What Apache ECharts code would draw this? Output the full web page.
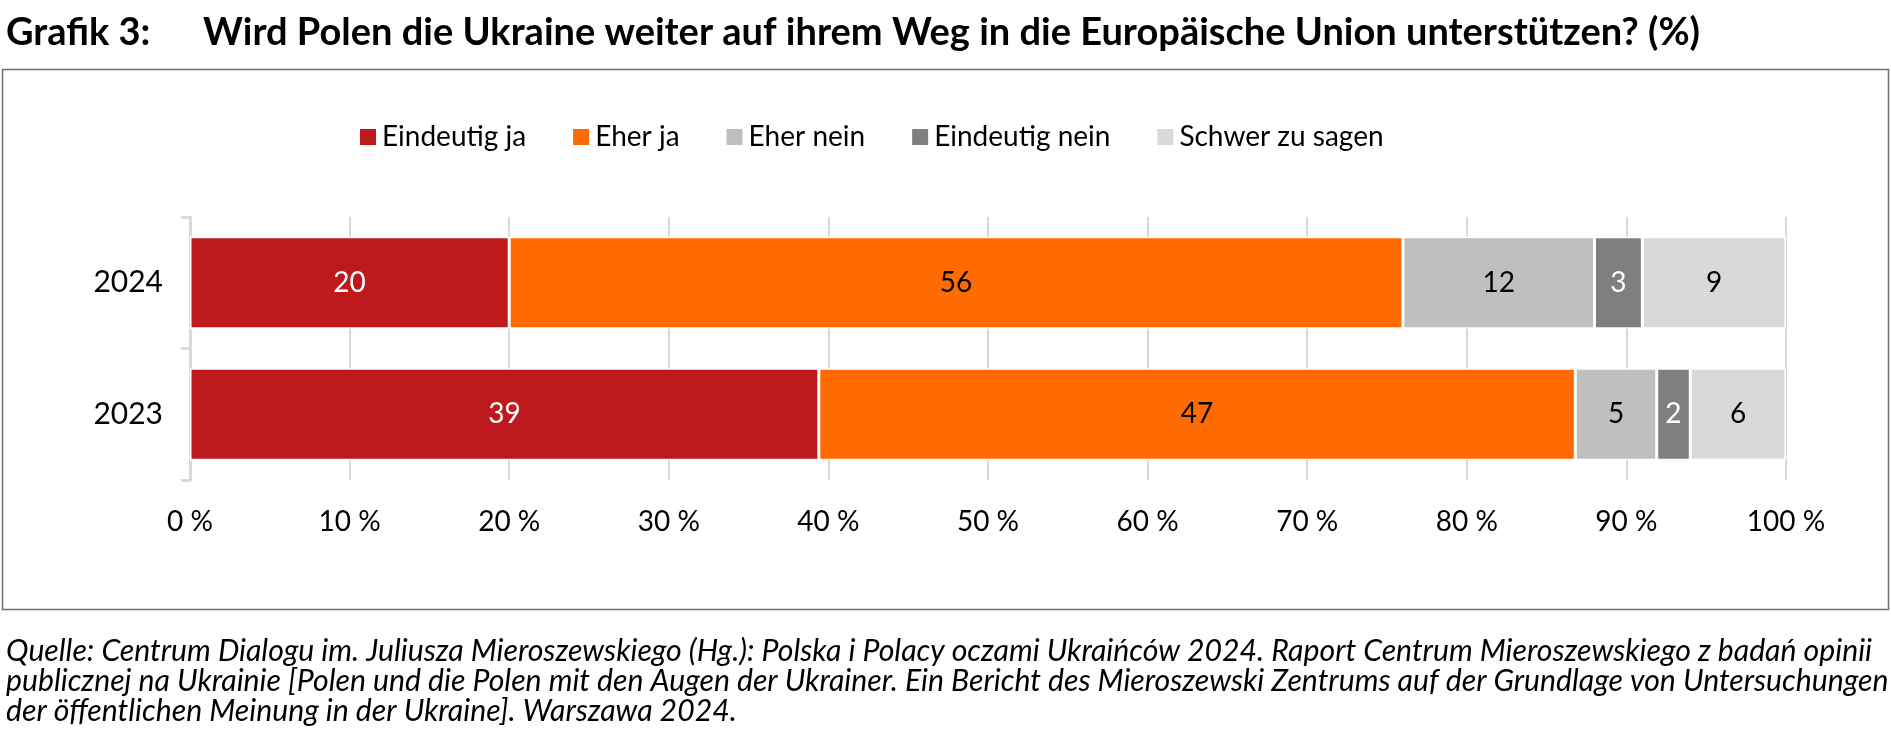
<!DOCTYPE html>
<html><head><meta charset="utf-8">
<script src="https://cdn.jsdelivr.net/npm/echarts@6/dist/echarts.min.js"></script>
<style>html,body{margin:0;padding:0;background:#fff}#c{width:1891px;height:738px}</style>
</head><body><div id="c"></div>
<script>
const categories = ['2024', '2023'];
const seriesNames = ['Eindeutig ja', 'Eher ja', 'Eher nein', 'Eindeutig nein', 'Schwer zu sagen'];
const eindeutigJa = [20, 39.4];
const eherJa = [56, 47.4];
const eherNein = [12, 5.1];
const eindeutigNein = [3, 2.1];
const schwerZuSagen = [9, 6.0];
const tickLabels = ['0 %','10 %','20 %','30 %','40 %','50 %','60 %','70 %','80 %','90 %','100 %'];
const colors = ['#BE1A1E', '#FF6B00', '#BFBFBF', '#7F7F7F', '#D9D9D9'];
const labelColors = ['#fff', '#000', '#000', '#fff', '#000'];
const values = [eindeutigJa, eherJa, eherNein, eindeutigNein, schwerZuSagen];
const FONT = 'Lato';
const chart = echarts.init(document.getElementById('c'), null, {renderer: 'canvas'});
chart.setOption({
  animation: false,
  textStyle: {fontFamily: FONT},
  title: [
    {text: 'Grafik 3:', left: 6, top: 14, padding: 0, textStyle: {fontFamily: FONT, fontWeight: 'bold', fontSize: 38, color: '#000'}},
    {text: 'Wird Polen die Ukraine weiter auf ihrem Weg in die Europäische Union unterstützen? (%)', left: 203, top: 14, padding: 0, textStyle: {fontFamily: FONT, fontWeight: 'bold', fontSize: 38, color: '#000'}}
  ],
  legend: {
    data: seriesNames, left: 358, top: 123, padding: 0, itemWidth: 18, itemHeight: 18, itemGap: 45, icon: 'rect',
    textStyle: {fontFamily: FONT, fontSize: 28, color: '#000'}
  },
  grid: {left: 190, right: 105, top: 217, bottom: 258, containLabel: false},
  xAxis: {
    type: 'value', min: 0, max: 100, interval: 10,
    axisLine: {show: false}, axisTick: {show: false},
    splitLine: {show: true, lineStyle: {color: '#D9D9D9', width: 2}},
    axisLabel: {margin: 28, fontFamily: FONT, fontSize: 28, color: '#000', formatter: (v) => tickLabels[v / 10]}
  },
  yAxis: {
    type: 'category', data: categories, inverse: true,
    axisLine: {show: true, lineStyle: {color: '#D9D9D9', width: 3}},
    axisTick: {show: true, length: 9, lineStyle: {color: '#D9D9D9', width: 3}},
    axisLabel: {margin: 27, fontFamily: FONT, fontSize: 30, color: '#000'}
  },
  graphic: [
    {type: 'rect', shape: {x: 2.5, y: 69.5, width: 1886, height: 540}, style: {fill: 'none', stroke: '#6f6f6f', lineWidth: 1.5}, silent: true, z: -1},
    {type: 'text', left: 6, top: 636, style: {
      text: 'Quelle: Centrum Dialogu im. Juliusza Mieroszewskiego (Hg.): Polska i Polacy oczami Ukraińców 2024. Raport Centrum Mieroszewskiego z badań opinii\npublicznej na Ukrainie [Polen und die Polen mit den Augen der Ukrainer. Ein Bericht des Mieroszewski Zentrums auf der Grundlage von Untersuchungen\nder öffentlichen Meinung in der Ukraine]. Warszawa 2024.',
      font: 'italic 30.2px Lato', fill: '#000', lineHeight: 30}}
  ],
  series: seriesNames.map((n, i) => ({
    name: n, type: 'bar', stack: 'total', data: values[i], barCategoryGap: '30%',
    itemStyle: {color: colors[i], borderColor: '#fff', borderWidth: 1.5},
    label: {show: true, position: 'inside', fontFamily: FONT, fontSize: 28, color: labelColors[i],
      formatter: (p) => Math.round(p.value)}
  }))
});
</script></body></html>
